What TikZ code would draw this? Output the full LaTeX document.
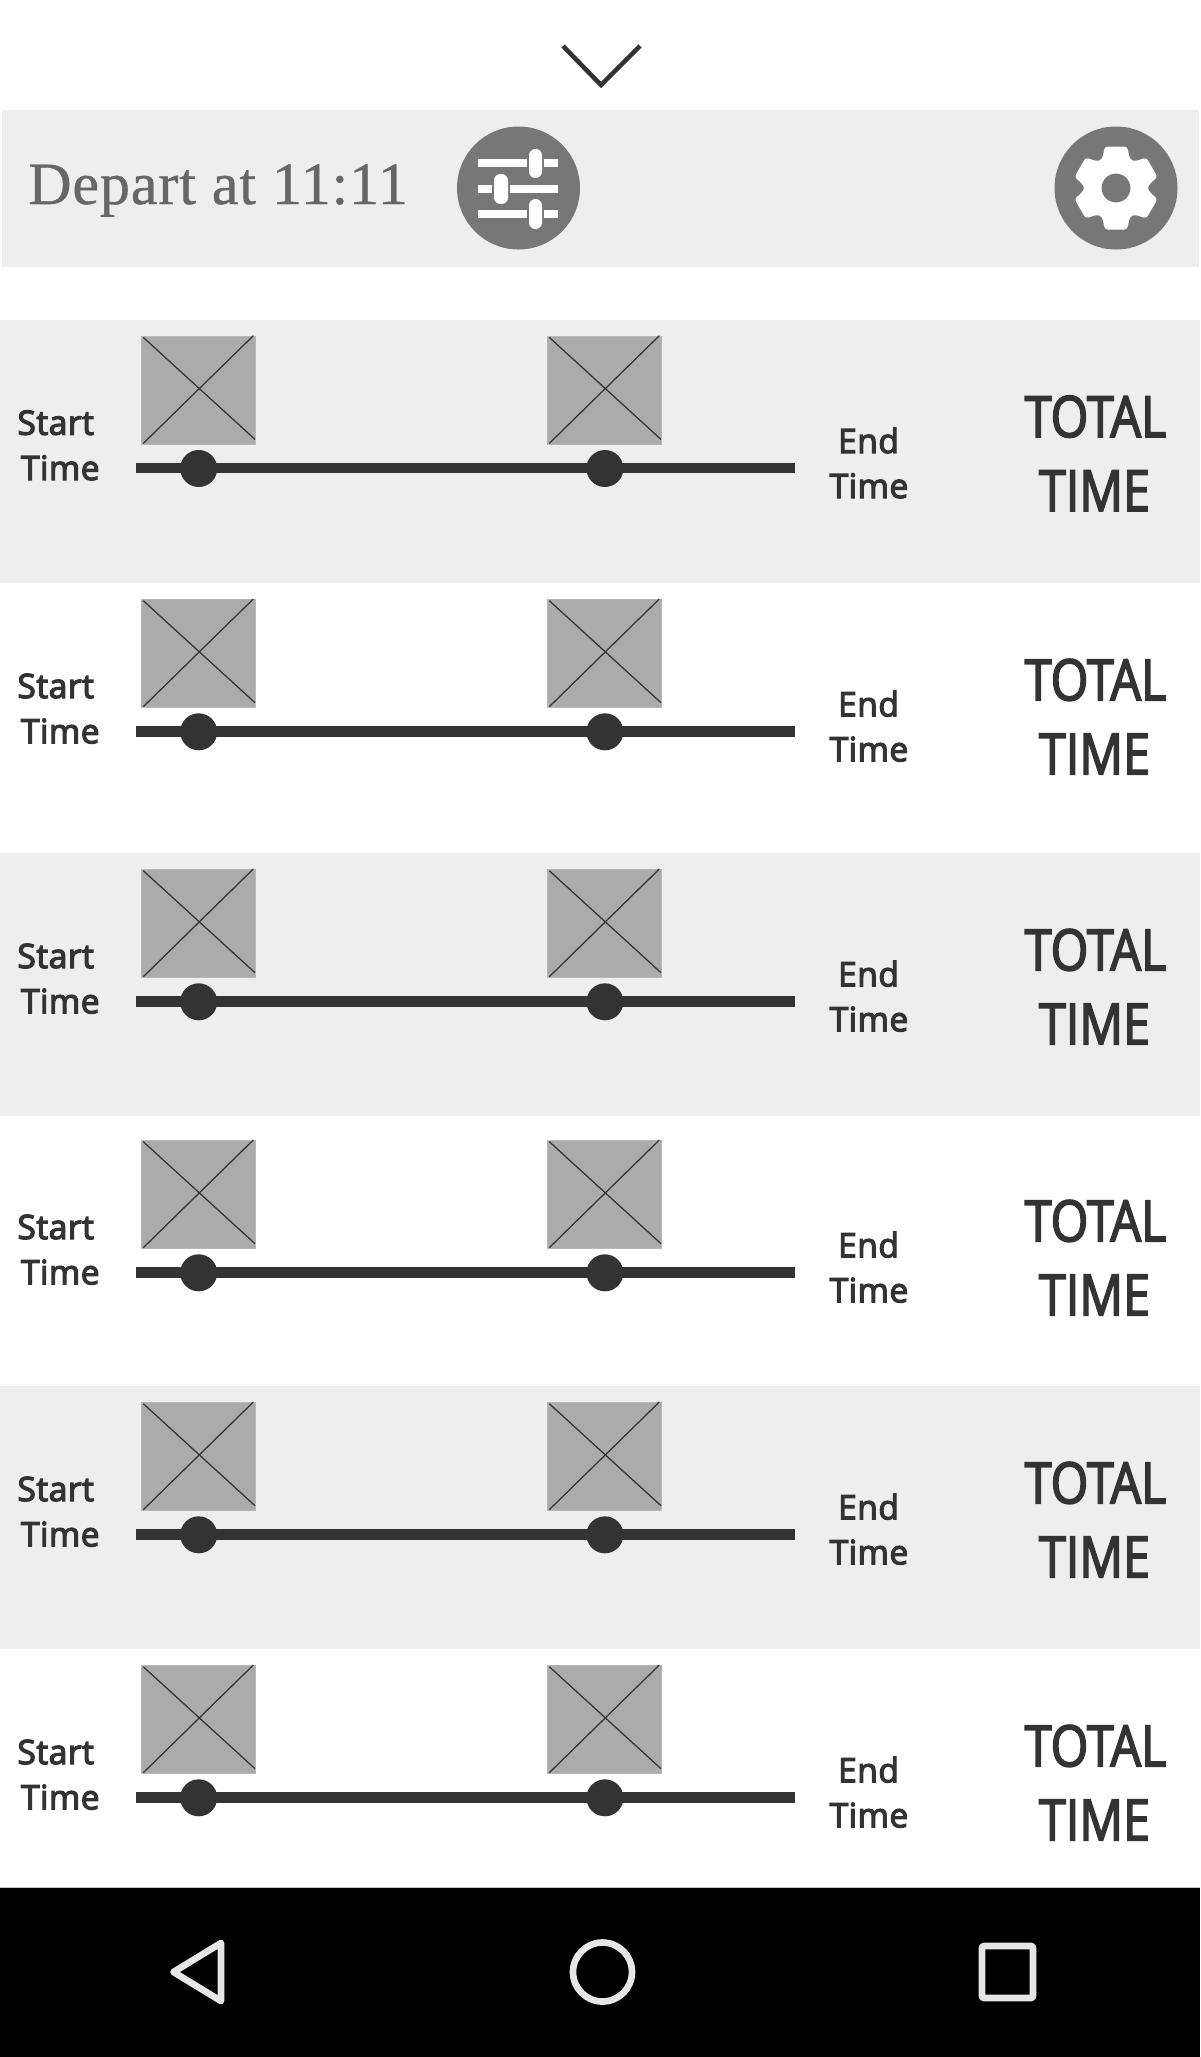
\documentclass[tikz,border=0pt]{standalone}
\usepackage{fontspec}
\setmainfont{Liberation Serif}
\newfontfamily\departfont[LetterSpace=1.5]{Liberation Serif}
\newfontfamily\labelfont[LetterSpace=1.5]{Open Sans}
\newfontfamily\totalfont[FakeStretch=0.85]{Open Sans}
\newcommand{\heavyA}[1]{\special{pdf:code 2 Tr 0.9 w}#1\special{pdf:code 0 Tr 1 w}}
\newcommand{\heavyB}[1]{\special{pdf:code 2 Tr 1.2 w}#1\special{pdf:code 0 Tr 1 w}}
\newcommand{\heavyC}[1]{\special{pdf:code 2 Tr 0.3 w}#1\special{pdf:code 0 Tr 1 w}}
\definecolor{band}{HTML}{EEEEEE}
\definecolor{ink}{HTML}{333333}
\definecolor{disc}{HTML}{777777}
\definecolor{photo}{HTML}{ABABAB}
\definecolor{photoedge}{HTML}{B8B8B8}
\definecolor{navicon}{HTML}{E6E6E6}
\definecolor{departink}{HTML}{666666}
\tikzset{
  bandbox/.style={fill=band,draw=none},
  photobox/.style={fill=photo,draw=photoedge,line width=0.75pt},
  cross/.style={draw=ink,line width=0.95pt},
  track/.style={draw=ink,line width=8pt},
  stopdot/.style={circle,fill=ink,draw=none,minimum size=27.75pt,inner sep=0pt},
  smalllabel/.style={anchor=base,inner sep=0pt,text=ink,font=\labelfont\fontsize{25.2pt}{30pt}\selectfont},
  biglabel/.style={anchor=base,inner sep=0pt,text=ink,font=\totalfont\fontsize{42.75pt}{50pt}\selectfont},
  discbtn/.style={circle,fill=disc,draw=none,minimum size=92.25pt,inner sep=0pt},
  navstroke/.style={draw=navicon,line width=5pt,line join=round},
}
\begin{document}
\begin{tikzpicture}[x=0.75pt,y=-0.75pt]
\useasboundingbox (0,0) rectangle (1200,2057);
\fill[white] (0,0) rectangle (1200,2057);
% chevron
\coordinate (chevL) at (563,46);
\coordinate (chevT) at (601,85);
\coordinate (chevR) at (640,46);
\draw[draw=ink,line width=3.4pt] (chevL) -- (chevT) -- (chevR);
% header
\fill[bandbox] (2,110) rectangle (1199,267);
\node[anchor=base west,inner sep=0pt,text=departink,font=\departfont\fontsize{45pt}{54pt}\selectfont] (depart) at (28,204) {\heavyC{Depart at 11:11}};
\node[discbtn] (filter) at (518.5,188) {};
\node[discbtn] (settings) at (1116,188) {};
% sliders
\fill[white] (478,159) rectangle (558,167);
\fill[white] (478,185) rectangle (558,193);
\fill[white] (478,210) rectangle (558,218);
\fill[disc] (527.3,149) rectangle (543.7,178);
\fill[disc] (492.3,174) rectangle (509.7,204);
\fill[disc] (527.3,199) rectangle (543.7,229);
\fill[white,rounded corners=4.8pt] (529,149) rectangle (542,178);
\fill[white,rounded corners=4.8pt] (494,174) rectangle (508,204);
\fill[white,rounded corners=4.8pt] (529,199) rectangle (542,229);
% gear
\begin{scope}[shift={(1116,188)}]
\fill[white,rounded corners=2pt]
  (-14,-29) -- (-11,-41.5) -- (11,-41.5) -- (14,-29)
  -- (18.1,-26.6) -- (30.4,-30.3) -- (41.4,-11.2) -- (32.1,-2.4)
  -- (32.1,2.4) -- (41.4,11.2) -- (30.4,30.3) -- (18.1,26.6)
  -- (14,29) -- (11,41.5) -- (-11,41.5) -- (-14,29)
  -- (-18.1,26.6) -- (-30.4,30.3) -- (-41.4,11.2) -- (-32.1,2.4)
  -- (-32.1,-2.4) -- (-41.4,-11.2) -- (-30.4,-30.3) -- (-18.1,-26.6) -- cycle;
\fill[disc] (0,0) circle[radius=14.4];
\end{scope}
% row bands
\fill[bandbox] (0,320) rectangle (1200,583);
\fill[bandbox] (0,853) rectangle (1200,1115.7);
\fill[bandbox] (0,1386) rectangle (1200,1648.7);
% rows
\foreach \i/\t in {1/336,2/599.3,3/869.3,4/1140.3,5/1402.3,6/1665.3}{
  \begin{scope}[shift={(0,\t)}]
    \foreach \k/\dx in {a/0,b/406}{
      \fill[photobox] (141.5+\dx,0.5) rectangle (255.5+\dx,108);
      \draw[cross] (143.3+\dx,1.4) -- (255+\dx,103.4);
      \draw[cross] (143.3+\dx,107.4) -- (253.3+\dx,-0.3);
    }
    \coordinate (trackS\i) at (136,132);
    \coordinate (trackE\i) at (795,132);
    \draw[track] (trackS\i) -- (trackE\i);
    \node[stopdot] (stopA\i) at (198.7,132.5) {};
    \node[stopdot] (stopB\i) at (604.9,132.5) {};
    \node[smalllabel] (startA\i) at (55.7,98.7) {\heavyA{Start}};
    \node[smalllabel] (startB\i) at (60.3,144) {\heavyA{Time}};
    \node[smalllabel] (endA\i) at (868.5,117) {\heavyA{End}};
    \node[smalllabel] (endB\i) at (869,162) {\heavyA{Time}};
    \node[biglabel] (totalA\i) at (1095.5,101) {\heavyB{TOTAL}};
    \node[biglabel] (totalB\i) at (1094.5,175) {\heavyB{TIME}};
  \end{scope}
}
% nav bar
\fill[black] (0,1888) rectangle (1200,2057);
\draw[draw=lightgray,line width=0.75pt] (0,1887.5) -- (1200,1887.5);
\draw[navstroke] (221,1943) -- (173.5,1972) -- (221,2001) -- cycle;
\draw[navstroke] (602.5,1972) circle[radius=29.5];
\draw[navstroke,rounded corners=1.5pt] (982,1946) rectangle (1033,1998);
\end{tikzpicture}
\end{document}
